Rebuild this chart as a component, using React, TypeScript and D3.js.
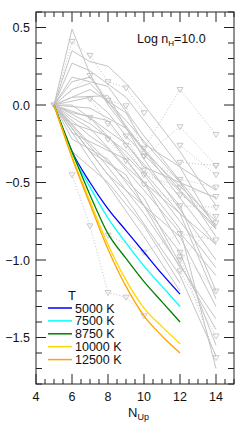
import * as d3 from 'd3';

type Pt = [number, number];

// model curves, one per temperature
const temps = ['5000 K', '7500 K', '8750 K', '10000 K', '12500 K'];
const tempColors = ['#0000ff', '#00ffff', '#008000', '#ffd700', '#ffa500'];
const modelN = [5, 6, 7, 8, 9, 10, 11, 12];
const model5000 = [0, -0.30, -0.50, -0.67, -0.81, -0.95, -1.09, -1.22];
const model7500 = [0, -0.31, -0.53, -0.73, -0.89, -1.04, -1.17, -1.30];
const model8750 = [0, -0.30, -0.58, -0.83, -0.99, -1.14, -1.27, -1.40];
const model10000 = [0, -0.33, -0.62, -0.90, -1.13, -1.31, -1.43, -1.54];
const model12500 = [0, -0.34, -0.64, -0.93, -1.17, -1.36, -1.49, -1.60];
const models = [model5000, model7500, model8750, model10000, model12500];

// observed decrements (solid grey)
const observed: Pt[][] = [
  [[5, 0], [6, 0.49], [7, 0.2], [8, 0.0], [10, -0.3], [14, -0.75]],
  [[5, 0], [6, 0.27], [7, 0.22], [9, 0.05], [12, -0.4], [14, -0.8]],
  [[5, 0], [6, 0.18], [8, 0.12], [10, -0.2], [14, -0.78]],
  [[5, 0], [6, 0.1], [7, 0.14], [9, -0.1], [12, -0.5], [14, -0.85]],
  [[5, 0], [6, 0.05], [8, 0.06], [10, -0.35], [14, -1.0]],
  [[5, 0], [7, -0.02], [9, -0.15], [12, -0.55], [14, -0.79]],
  [[5, 0], [6, -0.05], [8, -0.1], [10, -0.4], [14, -0.6]],
  [[5, 0], [7, -0.12], [9, -0.3], [12, -0.7], [14, -1.25]],
  [[5, 0], [6, -0.12], [8, -0.2], [10, -0.5], [12, -0.9]],
  [[5, 0], [7, -0.2], [8, -0.28], [10, -0.55], [14, -1.1]],
  [[5, 0], [6, -0.18], [9, -0.35], [12, -0.8], [14, -1.7]],
  [[5, 0], [7, -0.25], [10, -0.6], [14, -1.45]],
  [[5, 0], [6, -0.22], [8, -0.35], [12, -0.95], [14, -1.55]],
  [[5, 0], [7, -0.3], [9, -0.45], [12, -1.05]],
  [[5, 0], [8, -0.4], [10, -0.7], [14, -1.38]],
  [[5, 0], [6, -0.3], [8, -0.5], [10, -0.78], [12, -1.15]],
  [[5, 0], [7, 0.05], [8, -0.05], [9, -0.2], [14, -0.8]],
  [[5, 0], [6, 0.35], [7, 0.28], [8, 0.25], [9, 0.14], [10, 0.0], [12, -0.3], [14, -0.65]],
  [[5, 0], [6, 0.15], [7, 0.18], [8, 0.02], [12, -0.6], [14, -0.9]],
  [[5, 0], [8, -0.45], [9, -0.55], [12, -0.85], [14, -1.3]],
  [[5, 0], [7, -0.08], [10, -0.45], [12, -0.75], [14, -1.05]],
  [[5, 0], [6, 0.0], [9, -0.25], [12, -0.65], [14, -1.2]],
  [[5, 0], [7, -0.35], [10, -0.85], [12, -1.2]],
  [[5, 0], [9, -0.6], [12, -1.1], [14, -1.62]],
  [[5, 0], [6, -0.08], [7, -0.15], [9, -0.4], [14, -0.9]],
  [[5, 0], [7, 0.1], [9, -0.05], [10, -0.25], [14, -0.55]],
];

// upper limits (dotted grey with triangles)
const limits: Pt[][] = [
  [[5, 0], [6, 0.41], [7, 0.32], [8, 0.15], [9, 0.11], [10, -0.05]],
  [[5, 0], [7, 0.19], [8, 0.03], [9, -0.005], [10, -0.33], [12, -0.48], [14, -0.53]],
  [[7, 0.04], [8, -0.12], [9, -0.26], [10, -0.45], [12, -0.53], [14, -0.59]],
  [[7, -0.08], [8, -0.22], [9, -0.36], [10, -0.51], [12, -0.65], [14, -0.66]],
  [[10, -0.28], [12, 0.10], [14, -0.19]],
  [[10, -0.33], [12, -0.14], [14, -0.39]],
  [[12, -0.26], [14, -0.45]],
  [[12, -0.37], [14, -0.39]],
  [[6, -0.45], [7, -0.78], [8, -1.21], [9, -1.24], [10, -1.36]],
  [[8, -0.84], [10, -0.95], [12, -0.83], [14, -0.87]],
  [[12, -0.95], [14, -1.20]],
  [[12, -1.07], [14, -1.49]],
  [[12, -0.98], [14, -1.63]],
  [[14, -0.76], [12, -1.0]],
  [[9, -0.2], [10, -0.42], [12, -0.58], [14, -0.72]],
];

const W = 240;
const H = 428;
const left = 36;
const right = 234;
const top = 12;
const bottom = 384;
const font = '"Liberation Sans", Arial, sans-serif';

export default function App() {
  const x = d3.scaleLinear().domain([4, 15]).range([left, right]);
  const y = d3.scaleLinear().domain([-1.8, 0.6]).range([bottom, top]);
  const line = d3.line<Pt>().x(d => x(d[0])).y(d => y(d[1]));
  const smooth = d3.line<Pt>().x(d => x(d[0])).y(d => y(d[1])).curve(d3.curveMonotoneX);

  const xMajor = d3.range(4, 15, 2);
  const xMinor = d3.range(4, 15.01, 0.5);
  const yMajor = [-1.5, -1.0, -0.5, 0.0, 0.5];
  const yMinor = d3.range(-18, 7).map(v => v / 10);
  const fmt = (v: number) => (v < 0 ? '\u2212' : '') + Math.abs(v).toFixed(1);

  const tri = (cx: number, cy: number) =>
    `M${cx - 3},${cy - 2}L${cx + 3},${cy - 2}L${cx},${cy + 3}Z`;

  return (
    <svg width={W} height={H} style={{ position: 'absolute', left: 0, top: 0, background: 'white' }}
      fontFamily={font}>
      <defs>
        <clipPath id="plot">
          <rect x={left} y={top} width={right - left} height={bottom - top} />
        </clipPath>
      </defs>
      <g clipPath="url(#plot)">
        {observed.map((s, i) => (
          <path key={'o' + i} d={line(s) || ''} fill="none" stroke="#c4c4c4" strokeWidth={1} />
        ))}
        {limits.map((s, i) => (
          <g key={'l' + i}>
            <path d={line(s) || ''} fill="none" stroke="#c4c4c4" strokeWidth={1} strokeDasharray="1,2" />
            {s.map((p, j) => (
              <path key={j} d={tri(x(p[0]), y(p[1]))} fill="none" stroke="#bdbdbd" strokeWidth={0.8} />
            ))}
          </g>
        ))}
        {models.map((m, i) => (
          <path key={'m' + i} d={smooth(m.map((v, j) => [modelN[j], v] as Pt)) || ''}
            fill="none" stroke={tempColors[i]} strokeWidth={1.3} />
        ))}
      </g>

      {/* frame */}
      <rect x={left} y={top} width={right - left} height={bottom - top} fill="none" stroke="#222" strokeWidth={1} />
      {xMinor.map(v => {
        const major = xMajor.includes(v);
        const len = major ? 10 : 5;
        return (
          <g key={'xt' + v} stroke="#222" strokeWidth={1}>
            <line x1={x(v)} x2={x(v)} y1={bottom} y2={bottom - len} />
            <line x1={x(v)} x2={x(v)} y1={top} y2={top + len} />
          </g>
        );
      })}
      {yMinor.map(v => {
        const major = yMajor.some(m => Math.abs(m - v) < 1e-6);
        const len = major ? 10 : 6;
        return (
          <g key={'yt' + v} stroke="#222" strokeWidth={1}>
            <line x1={left} x2={left + len} y1={y(v)} y2={y(v)} />
            <line x1={right} x2={right - len} y1={y(v)} y2={y(v)} />
          </g>
        );
      })}
      {xMajor.map(v => (
        <text key={'xl' + v} x={x(v)} y={401} textAnchor="middle" fontSize={12.5} fill="#111">{v}</text>
      ))}
      {yMajor.map(v => (
        <text key={'yl' + v} x={30} y={y(v) + 4.5} textAnchor="end" fontSize={12.5} fill="#111">{fmt(v)}</text>
      ))}
      <text x={128} y={417} fontSize={13} fill="#111">
        N<tspan fontSize={9} dy={3}>Up</tspan>
      </text>
      <text x={137} y={43} fontSize={12.5} fill="#111">
        Log n<tspan fontSize={8} dy={3}>H</tspan><tspan dy={-3}>=10.0</tspan>
      </text>

      {/* legend */}
      <text x={72} y={300} textAnchor="middle" fontSize={13} fill="#111">T</text>
      {temps.map((t, i) => (
        <g key={'lg' + i}>
          <line x1={48} x2={72} y1={308 + i * 12.9} y2={308 + i * 12.9} stroke={tempColors[i]} strokeWidth={1.5} />
          <text x={75} y={312.5 + i * 12.9} fontSize={12.5} fill="#111">{t}</text>
        </g>
      ))}
    </svg>
  );
}
